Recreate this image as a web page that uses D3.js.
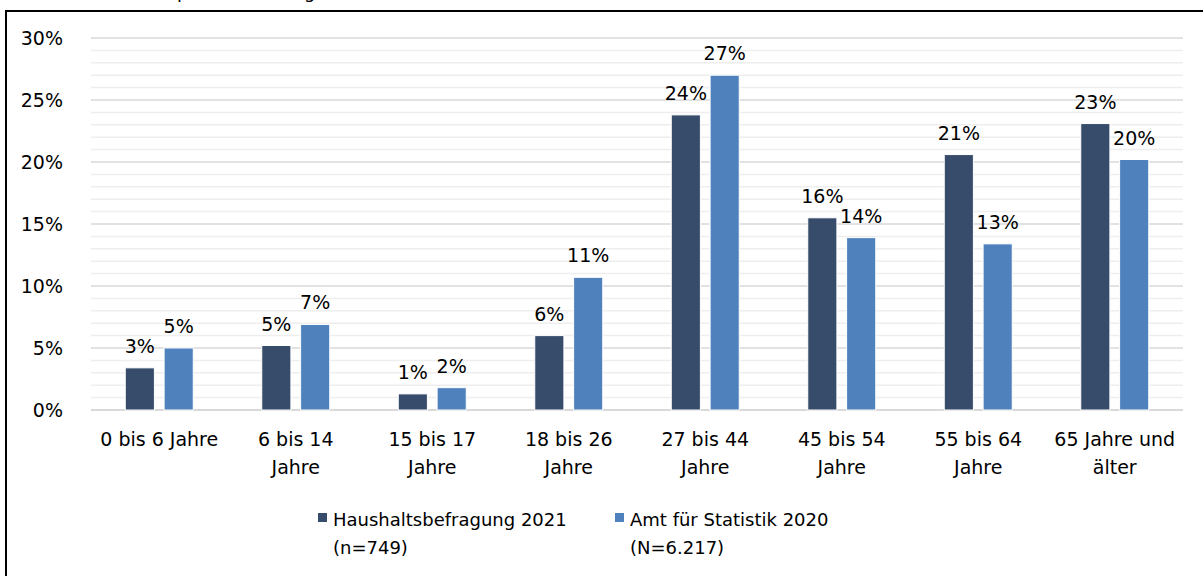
<html>
<head>
<meta charset="utf-8">
<script src="https://d3js.org/d3.v7.min.js"></script>
<style>
  body { margin: 0; background: #fff; }
  svg text { font-family: "DejaVu Sans", sans-serif; fill: #000; }
</style>
</head>
<body>
<svg width="1203" height="576"></svg>
<script>
// data
var categories = ["0 bis 6 Jahre", "6 bis 14 Jahre", "15 bis 17 Jahre", "18 bis 26 Jahre",
                  "27 bis 44 Jahre", "45 bis 54 Jahre", "55 bis 64 Jahre", "65 Jahre und älter"];
var tickLines = [["0 bis 6 Jahre"], ["6 bis 14", "Jahre"], ["15 bis 17", "Jahre"], ["18 bis 26", "Jahre"],
                 ["27 bis 44", "Jahre"], ["45 bis 54", "Jahre"], ["55 bis 64", "Jahre"], ["65 Jahre und", "älter"]];
var haushalt = [3.4, 5.2, 1.3, 6.0, 23.8, 15.5, 20.6, 23.1];
var amt = [5.0, 6.9, 1.8, 10.7, 27.0, 13.9, 13.4, 20.2];
var seriesNames = ["Haushaltsbefragung 2021", "Amt für Statistik 2020"];
var seriesSub = ["(n=749)", "(N=6.217)"];
var colors = ["#374c6b", "#4f81bd"];
var yTicks = [0, 5, 10, 15, 20, 25, 30];

var fs = "19px";
var svg = d3.select("svg");

// cut off heading and frame
svg.append("text").attr("x", 345).attr("y", -2).attr("text-anchor", "end")
  .attr("font-size", "18px").text("Altersstruktur (personenbezogen)");
svg.append("rect").attr("x", 6).attr("y", 11).attr("width", 1220).attr("height", 600)
  .attr("fill", "none").attr("stroke", "#000").attr("stroke-width", 2);

var x = d3.scaleBand().domain(categories).range([91, 1183]);
var y = d3.scaleLinear().domain([0, 30]).range([410, 38]);

// minor grid (1%)
svg.append("g").selectAll("line")
  .data(d3.range(0, 31).filter(function(v) { return v % 5 !== 0; }))
  .join("line")
    .attr("x1", 91).attr("x2", 1183)
    .attr("y1", function(d) { return y(d); }).attr("y2", function(d) { return y(d); })
    .attr("stroke", "#eeeeee").attr("stroke-width", 1.5);

// major grid
svg.append("g").selectAll("line")
  .data(yTicks)
  .join("line")
    .attr("x1", 91).attr("x2", 1183)
    .attr("y1", function(d) { return y(d); }).attr("y2", function(d) { return y(d); })
    .attr("stroke", "#d9d9d9").attr("stroke-width", function(d) { return d === 0 ? 2 : 1.5; });

// y labels
var yAxis = svg.append("g").attr("transform", "translate(63,0)")
  .call(d3.axisLeft(y).tickValues(yTicks).tickSize(0).tickPadding(0).tickFormat(function(d) { return d + "%"; }));
yAxis.select(".domain").remove();
yAxis.selectAll("text").attr("font-size", fs).attr("font-family", "DejaVu Sans, sans-serif").attr("fill", "#000");

var rows = categories.map(function(c, i) { return {cat: c, vals: [haushalt[i], amt[i]]}; });

var g = svg.append("g").selectAll("g").data(rows).join("g")
  .attr("transform", function(d) { return "translate(" + (x(d.cat) + x.bandwidth() / 2 - 34) + ",0)"; });

var x1 = d3.scaleBand().domain([0, 1]).range([0, 68]).paddingInner(0.25);

g.selectAll("rect").data(function(d) { return d.vals; }).join("rect")
  .attr("x", function(d, i) { return x1(i); })
  .attr("y", function(d) { return y(d); })
  .attr("width", x1.bandwidth())
  .attr("height", function(d) { return y(0) - y(d); })
  .attr("fill", function(d, i) { return colors[i]; })
  .attr("stroke", "#fff").attr("stroke-width", 1);

g.selectAll("text").data(function(d) { return d.vals; }).join("text")
  .attr("x", function(d, i) { return x1(i) + x1.bandwidth() / 2; })
  .attr("y", function(d) { return y(d) - 15; })
  .attr("text-anchor", "middle")
  .attr("font-size", fs)
  .text(function(d) { return Math.round(d) + "%"; });

// category labels
var xl = svg.append("g").selectAll("text").data(categories).join("text")
  .attr("x", function(d) { return x(d) + x.bandwidth() / 2; })
  .attr("y", 446)
  .attr("text-anchor", "middle")
  .attr("font-size", fs);
xl.selectAll("tspan").data(function(d, i) { return tickLines[i]; }).join("tspan")
  .attr("x", function() { return d3.select(this.parentNode).attr("x"); })
  .attr("dy", function(d, i) { return i === 0 ? 0 : 28; })
  .text(function(d) { return d; });

// legend
var legX = [318, 615];
var leg = svg.append("g").selectAll("g").data(seriesNames).join("g")
  .attr("transform", function(d, i) { return "translate(" + legX[i] + ",0)"; });
leg.append("rect").attr("x", 0).attr("y", 513).attr("width", 9).attr("height", 9)
  .attr("fill", function(d, i) { return colors[i]; });
leg.append("text").attr("x", 15).attr("y", 526).attr("font-size", "18px").text(function(d) { return d; });
leg.append("text").attr("x", 15).attr("y", 554).attr("font-size", "18px").text(function(d, i) { return seriesSub[i]; });
</script>
</body>
</html>
